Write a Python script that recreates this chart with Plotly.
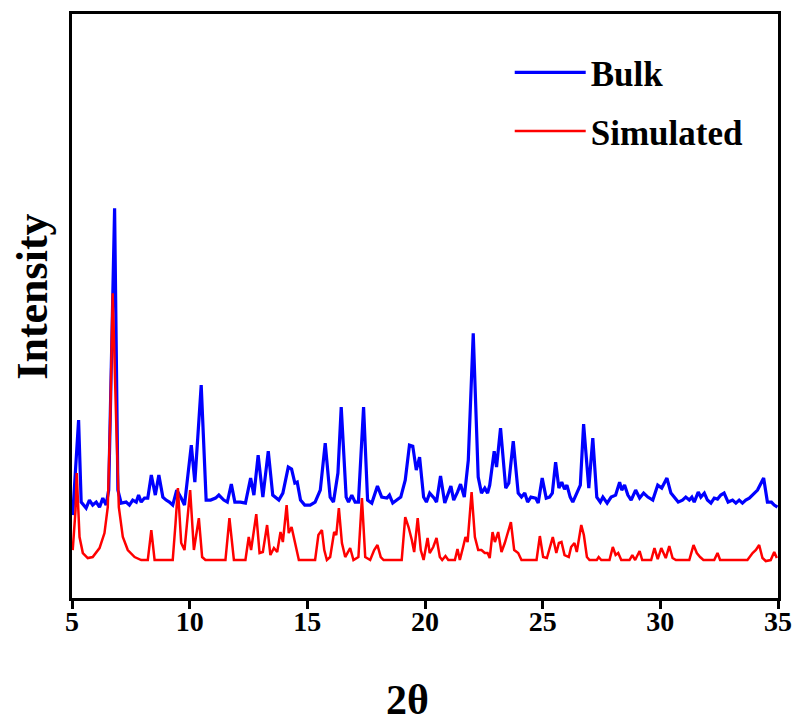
import plotly.graph_objects as go

# ---- data (2theta, intensity in arbitrary units) ----
bulk_2theta = [5.03, 5.28, 5.39, 5.60, 5.74, 5.88, 6.03, 6.17, 6.31, 6.45, 6.56, 6.81, 6.95, 7.09,
               7.30, 7.44, 7.58, 7.73, 7.83, 7.94, 8.08, 8.22, 8.37, 8.54, 8.69, 8.86, 9.00, 9.14,
               9.28, 9.45, 9.64, 9.78, 10.07, 10.22, 10.49, 10.70, 10.89, 11.10, 11.24, 11.45,
               11.60, 11.77, 11.92, 12.16, 12.37, 12.59, 12.73, 12.91, 13.11, 13.34, 13.53, 13.79,
               13.96, 14.19, 14.33, 14.47, 14.57, 14.71, 14.89, 15.12, 15.33, 15.55, 15.76, 15.97,
               16.11, 16.30, 16.44, 16.65, 16.75, 16.89, 17.03, 17.17, 17.39, 17.56, 17.74, 17.98,
               18.16, 18.38, 18.49, 18.63, 18.80, 18.97, 19.16, 19.34, 19.48, 19.63, 19.77, 19.94,
               20.06, 20.20, 20.39, 20.49, 20.66, 20.84, 21.10, 21.22, 21.38, 21.51, 21.67, 21.84,
               22.05, 22.26, 22.40, 22.54, 22.66, 22.75, 22.94, 23.04, 23.21, 23.43, 23.56, 23.75,
               23.96, 24.10, 24.24, 24.36, 24.50, 24.70, 24.81, 24.98, 25.15, 25.29, 25.41, 25.55,
               25.69, 25.81, 25.93, 26.03, 26.17, 26.28, 26.45, 26.60, 26.74, 26.96, 27.13, 27.30,
               27.45, 27.56, 27.74, 27.91, 28.10, 28.27, 28.36, 28.48, 28.62, 28.76, 28.95, 29.12,
               29.29, 29.47, 29.68, 29.89, 30.06, 30.28, 30.45, 30.59, 30.76, 30.94, 31.08, 31.23,
               31.34, 31.44, 31.61, 31.72, 31.87, 32.00, 32.15, 32.29, 32.43, 32.57, 32.71, 32.88,
               33.07, 33.21, 33.35, 33.49, 33.63, 33.78, 33.99, 34.13, 34.39, 34.55, 34.72, 34.84,
               34.98]
bulk_intensity = [83, 178, 96, 90, 98, 93, 96, 91, 100, 93, 108, 390, 108, 95,
                  96, 93, 98, 96, 103, 96, 100, 100, 123, 103, 123, 101, 98, 96,
                  93, 108, 100, 93, 153, 116, 213, 98, 98, 100, 103, 98,
                  96, 114, 96, 96, 95, 120, 103, 143, 101, 147, 103, 98,
                  105, 131, 129, 115, 116, 98, 93, 93, 96, 108, 155, 101,
                  96, 125, 191, 101, 96, 103, 96, 96, 191, 98, 95, 112,
                  101, 100, 103, 95, 98, 101, 118, 153, 152, 128, 141, 101,
                  96, 105, 100, 96, 122, 95, 112, 98, 106, 114, 101, 138,
                  265, 121, 105, 110, 105, 113, 147, 131, 170, 110, 115, 157,
                  105, 101, 105, 96, 101, 100, 95, 120, 100, 101, 105, 136,
                  110, 116, 109, 113, 101, 96, 105, 113, 174, 110, 160, 101,
                  96, 101, 95, 101, 103, 116, 108, 113, 103, 98, 108, 100,
                  105, 101, 98, 113, 110, 120, 105, 101, 96, 98, 101, 98,
                  101, 96, 106, 101, 105, 98, 95, 100, 99, 103, 105, 96,
                  98, 95, 98, 95, 98, 100, 105, 108, 120, 96, 96, 93,
                  91]

sim_2theta = [5.03, 5.15, 5.20, 5.32, 5.46, 5.67, 5.88, 6.17, 6.38, 6.52, 6.62, 6.73, 6.88, 6.99,
              7.16, 7.37, 7.66, 7.94, 8.22, 8.37, 8.51, 9.28, 9.40, 9.50, 9.64, 9.78, 10.02, 10.18,
              10.39, 10.53, 10.67, 11.52, 11.69, 11.88, 12.37, 12.51, 12.61, 12.83, 12.97, 13.11,
              13.29, 13.43, 13.58, 13.72, 13.86, 13.96, 14.12, 14.21, 14.33, 14.43, 14.53, 14.64,
              15.33, 15.47, 15.62, 15.72, 15.83, 15.97, 16.14, 16.23, 16.34, 16.47, 16.61, 16.82,
              16.96, 17.17, 17.32, 17.46, 17.67, 17.84, 17.98, 18.12, 18.24, 19.01, 19.16, 19.30,
              19.44, 19.54, 19.69, 19.82, 19.94, 20.11, 20.20, 20.35, 20.49, 20.63, 20.73, 20.87,
              20.99, 21.27, 21.38, 21.48, 21.62, 21.72, 21.81, 21.98, 22.12, 22.26, 22.40, 22.54,
              22.66, 22.75, 22.87, 22.97, 23.11, 23.25, 23.39, 23.65, 23.79, 23.96, 24.10, 24.74,
              24.88, 25.02, 25.18, 25.29, 25.43, 25.58, 25.69, 25.80, 25.93, 26.11, 26.21, 26.35,
              26.45, 26.64, 26.75, 26.88, 26.99, 27.30, 27.38, 27.49, 27.84, 27.98, 28.10, 28.21,
              28.34, 28.69, 28.81, 28.93, 29.12, 29.23, 29.61, 29.75, 29.89, 30.04, 30.23, 30.38,
              30.52, 30.66, 31.23, 31.41, 31.55, 31.69, 31.83, 32.29, 32.43, 32.54, 33.70, 33.92,
              34.06, 34.20, 34.34, 34.48, 34.69, 34.84, 34.95]
sim_intensity = [48, 88, 125, 61, 45, 40, 41, 50, 65, 91, 175, 305, 175, 91,
                 61, 48, 41, 38, 38, 68, 38, 38, 75, 110, 55, 48, 108, 48,
                 80, 41, 38, 38, 80, 38, 38, 61, 48, 84, 45, 46,
                 73, 43, 50, 46, 66, 56, 93, 65, 71, 60, 51, 38,
                 38, 63, 68, 48, 38, 41, 66, 63, 90, 55, 41, 50,
                 38, 41, 100, 41, 38, 48, 53, 41, 38, 38, 81, 71,
                 58, 46, 80, 48, 38, 60, 45, 51, 60, 41, 38, 42,
                 38, 38, 49, 38, 51, 61, 56, 106, 61, 48, 48, 45,
                 45, 40, 66, 56, 66, 46, 55, 76, 48, 45, 38, 38,
                 62, 41, 40, 50, 61, 45, 55, 56, 43, 41, 51, 55,
                 46, 73, 63, 41, 38, 38, 41, 38, 38, 51, 43, 45,
                 38, 38, 43, 38, 47, 38, 38, 50, 39, 50, 40, 52,
                 40, 38, 38, 53, 45, 41, 38, 38, 45, 38, 38, 45,
                 48, 53, 40, 37, 38, 46, 40]

x_ticks = [5, 10, 15, 20, 25, 30, 35]
x_title = "2θ"
y_title = "Intensity"

FONT = "Liberation Serif"

fig = go.Figure()
fig.add_trace(go.Scatter(x=bulk_2theta, y=bulk_intensity, mode="lines", name="Bulk",
                         legendgroup="bulk",
                         line=dict(color="#0000FF", width=3.2)))
fig.add_trace(go.Scatter(x=sim_2theta, y=sim_intensity, mode="lines", name="Simulated",
                         legendgroup="sim",
                         line=dict(color="#FF0000", width=2.5)))

fig.update_layout(
    width=805, height=727,
    margin=dict(l=64, r=35, t=6, b=137),
    paper_bgcolor="white", plot_bgcolor="white",
    font=dict(family=FONT, color="black"),
    showlegend=True,
    legend=dict(x=0.62, y=0.95, xanchor="left", yanchor="top",
                font=dict(family=FONT, size=35, color="black", weight="bold"),
                bgcolor="rgba(0,0,0,0)", itemwidth=71, tracegroupgap=10,
                traceorder="grouped"),
    xaxis=dict(range=[5, 35], tickvals=x_ticks, ticktext=[str(t) for t in x_ticks],
               automargin=False,
               showgrid=False, zeroline=False, showline=True, linecolor="black",
               linewidth=3, mirror=True, ticks="outside", ticklen=8, tickwidth=3,
               tickcolor="black", ticklabelstandoff=-12,
               tickfont=dict(family=FONT, size=28, color="black", weight="bold")),
    yaxis=dict(range=[0, 584.5], showticklabels=False, ticks="", showgrid=False,
               automargin=False,
               zeroline=False, showline=True, linecolor="black", linewidth=3, mirror=True),
    annotations=[
        dict(text=x_title, xref="paper", yref="paper", x=0.475, y=-0.1745,
             xanchor="center", yanchor="middle", showarrow=False,
             font=dict(family=FONT, size=42, color="black", weight="bold")),
        dict(text=y_title, xref="paper", yref="paper", x=-0.056, y=0.5167,
             xanchor="center", yanchor="middle", showarrow=False, textangle=-90,
             font=dict(family=FONT, size=44, color="black", weight="bold")),
    ],
)

fig.write_html("out.html")
